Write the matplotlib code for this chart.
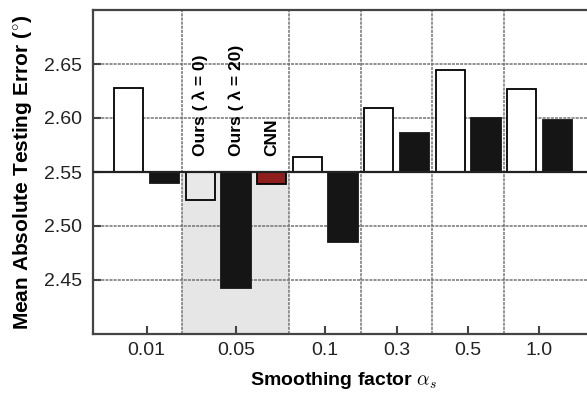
import matplotlib
matplotlib.use("Agg")
import matplotlib.pyplot as plt

plt.rcParams['font.family'] = ['Liberation Sans', 'DejaVu Sans']
plt.rcParams['mathtext.fontset'] = 'cm'

# Mean absolute testing error per bar, grouped by smoothing factor
group_labels = ["0.01", "0.05", "0.1", "0.3", "0.5", "1.0"]
group_sizes = [2, 3, 2, 2, 2, 2]
bar_values = [2.628, 2.540,            # 0.01
              2.524, 2.443, 2.539,     # 0.05: Ours(λ=0), Ours(λ=20), CNN
              2.5635, 2.485,           # 0.1
              2.609, 2.586,            # 0.3
              2.644, 2.600,            # 0.5
              2.627, 2.598]            # 1.0
bar_kinds = ["open", "solid",
             "gray", "solid", "cnn",
             "open", "solid",
             "open", "solid",
             "open", "solid",
             "open", "solid"]
method_labels = ["Ours ( λ = 0)", "Ours ( λ = 20)", "CNN"]
baseline = 2.55
yticks = [2.45, 2.50, 2.55, 2.60, 2.65]

fill = {"open": "white", "solid": "#151515", "gray": "#e8e8e8", "cnn": "#8e1f1c"}

fig = plt.figure(figsize=(5.87, 3.94), dpi=100)
ax = fig.add_axes([93 / 587, 60 / 394, 500 / 587, 324 / 394])

n = len(bar_values)
xs = list(range(n))
ax.set_xlim(-1, n)
ax.set_ylim(2.40, 2.70)

# group boundaries and tick centres
bounds = []
centres = []
start = 0
for size in group_sizes:
    centres.append(start + (size - 1) / 2)
    start += size
    bounds.append(start - 0.5)

# shaded block behind the 0.05 group, below the baseline
g0 = group_sizes[0]
ax.axvspan(g0 - 0.5, g0 + group_sizes[1] - 0.5, ymin=0,
           ymax=(baseline - 2.40) / 0.30, color="#e6e6e6", zorder=0, lw=0)

grid_kw = dict(color="#747474", lw=1.1, ls=(0, (2.0, 0.7)), zorder=1)
for b in bounds[:-1]:
    ax.axvline(b, **grid_kw)
for yv in yticks:
    if yv != baseline:
        ax.axhline(yv, **grid_kw)

for x, v, k in zip(xs, bar_values, bar_kinds):
    ec = "#151515" if k == "solid" else "black"
    ax.bar(x, v - baseline, bottom=baseline, width=0.82, color=fill[k],
           edgecolor=ec, lw=1.3, zorder=3)

ax.axhline(baseline, color="#222222", lw=1.6, zorder=4)

for i, lab in enumerate(method_labels):
    ax.text(g0 + i, 2.5647, lab, rotation=90, ha="center", va="bottom",
            fontsize=12.5, fontweight="bold", zorder=5)

ax.set_xticks(centres)
ax.set_xticklabels(group_labels)
ax.set_yticks(yticks)
ax.set_yticklabels([f"{t:.2f}" for t in yticks])
ax.tick_params(axis="both", direction="in", length=6, width=1.5,
               color="#444444", labelsize=14, labelcolor="#222222")
ax.tick_params(axis="x", pad=6)
ax.tick_params(axis="y", pad=8)

for s in ax.spines.values():
    s.set_color("#444444")
    s.set_linewidth(1.6)

ax.set_xlabel(r"Smoothing factor $\alpha_s$", fontsize=14, fontweight="bold",
              labelpad=8)
ax.set_ylabel(r"Mean Absolute Testing Error ($^{\circ}$)", fontsize=15,
              fontweight="bold", labelpad=7)

fig.savefig("out.png", dpi=100)
